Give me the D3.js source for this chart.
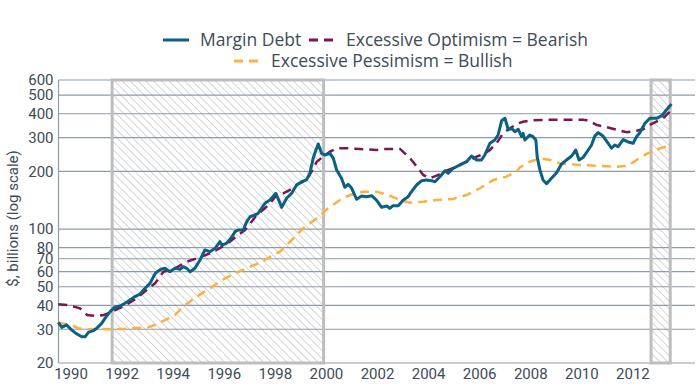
<!DOCTYPE html>
<html>
<head>
<meta charset="utf-8">
<script src="https://cdn.jsdelivr.net/npm/d3@7"></script>
<style>
  body { margin: 0; background: #fff; }
  text { font-family: Roboto, "Liberation Sans", sans-serif; fill: #3c4c59; }
  .legend text { font-family: "Open Sans", Roboto, sans-serif; }
</style>
</head>
<body>
<script>
// Margin debt vs. sentiment bands, $ billions, log scale
var marginDebt = [
  [1989.52, 32.6], [1989.66, 30.7], [1989.85, 31.6], [1990.05, 29.7], [1990.24, 28.4],
  [1990.44, 27.4], [1990.57, 27.4], [1990.70, 28.9], [1990.89, 29.5], [1991.03, 30.4],
  [1991.22, 32.2], [1991.35, 34.2], [1991.55, 37.1], [1991.74, 39.1], [1991.94, 39.7],
  [1992.13, 41.0], [1992.33, 42.6], [1992.52, 44.4], [1992.72, 45.8], [1992.92, 49.1],
  [1993.11, 52.1], [1993.31, 58.5], [1993.44, 60.5], [1993.52, 61.5], [1993.70, 62.4],
  [1993.89, 59.9], [1994.09, 62.4], [1994.29, 61.7], [1994.41, 63.6], [1994.55, 62.4],
  [1994.68, 59.9], [1994.87, 62.4], [1995.07, 69.0], [1995.26, 77.8], [1995.46, 76.2],
  [1995.66, 79.4], [1995.85, 86.0], [1995.92, 82.6], [1996.11, 84.3], [1996.31, 90.6],
  [1996.44, 96.9], [1996.57, 98.9], [1996.76, 98.9], [1996.90, 109.3], [1997.03, 116.0],
  [1997.22, 118.5], [1997.35, 120.9], [1997.61, 136.3], [1997.81, 141.8], [1998.04, 153.8],
  [1998.27, 129.9], [1998.46, 144.8], [1998.66, 153.8], [1998.85, 169.9], [1999.05, 176.7],
  [1999.24, 180.5], [1999.37, 195.5], [1999.50, 234.1], [1999.61, 258.7], [1999.70, 278.0],
  [1999.83, 248.6], [1999.96, 243.6], [2000.16, 248.6], [2000.29, 234.1], [2000.42, 203.5],
  [2000.61, 184.1], [2000.74, 165.3], [2000.87, 171.4], [2001.01, 163.3], [2001.20, 143.1],
  [2001.40, 148.8], [2001.59, 147.6], [2001.79, 149.4], [2001.98, 141.8], [2002.18, 129.9],
  [2002.38, 132.0], [2002.50, 128.4], [2002.63, 132.5], [2002.83, 132.5], [2003.03, 141.8],
  [2003.22, 147.6], [2003.35, 156.8], [2003.55, 169.9], [2003.75, 178.9], [2003.94, 180.5],
  [2004.14, 178.9], [2004.27, 176.7], [2004.46, 187.7], [2004.66, 201.7], [2004.79, 195.5],
  [2004.98, 207.6], [2005.24, 216.1], [2005.51, 224.7], [2005.70, 240.7], [2005.90, 229.5],
  [2006.09, 229.5], [2006.22, 243.6], [2006.42, 280.5], [2006.61, 291.7], [2006.74, 309.8],
  [2006.88, 367.9], [2007.01, 378.7], [2007.14, 330.0], [2007.27, 335.9], [2007.40, 322.4],
  [2007.53, 332.0], [2007.66, 303.6], [2007.72, 316.0], [2007.79, 291.7], [2007.98, 309.8],
  [2008.11, 303.6], [2008.22, 291.7], [2008.27, 239.0], [2008.38, 203.0], [2008.50, 180.5],
  [2008.64, 172.4], [2008.83, 184.0], [2009.03, 197.0], [2009.22, 218.0], [2009.42, 229.5],
  [2009.62, 240.7], [2009.78, 258.7], [2009.91, 229.5], [2010.07, 236.5], [2010.27, 258.7],
  [2010.40, 274.8], [2010.53, 306.7], [2010.66, 318.6], [2010.85, 306.0], [2011.05, 280.5],
  [2011.18, 264.2], [2011.31, 274.8], [2011.44, 269.3], [2011.64, 293.0], [2011.83, 285.0],
  [2012.03, 280.5], [2012.16, 303.6], [2012.29, 318.6], [2012.49, 356.6], [2012.68, 378.7],
  [2012.94, 378.7], [2013.14, 389.4], [2013.33, 418.5], [2013.53, 449.8]
];

var optimism = [
  [1989.52, 40.5], [1989.85, 40.2], [1990.11, 39.4], [1990.37, 38.6], [1990.65, 35.6],
  [1991.03, 35.2], [1991.30, 35.6], [1991.55, 36.7], [1991.85, 38.3], [1992.13, 39.9],
  [1992.59, 43.5], [1992.98, 48.1], [1993.31, 52.1], [1993.64, 59.9], [1994.09, 62.4],
  [1994.55, 67.6], [1994.95, 70.4], [1995.46, 74.7], [1995.72, 77.8], [1996.05, 82.6],
  [1996.24, 86.0], [1996.57, 93.2], [1996.83, 98.9], [1997.09, 109.3], [1997.29, 118.5],
  [1997.61, 128.4], [1997.81, 136.3], [1998.07, 150.6], [1998.33, 153.8], [1998.59, 160.0],
  [1998.85, 169.9], [1999.24, 180.5], [1999.44, 199.3], [1999.64, 224.7], [1999.89, 238.8],
  [2000.16, 253.6], [2000.42, 264.2], [2000.81, 264.2], [2001.33, 262.0], [2001.98, 258.7],
  [2002.24, 262.0], [2002.50, 262.0], [2002.90, 262.0], [2003.09, 248.6], [2003.35, 229.5],
  [2003.61, 207.6], [2003.81, 191.6], [2004.07, 184.1], [2004.40, 191.6], [2004.72, 201.7],
  [2005.12, 211.6], [2005.51, 224.7], [2005.90, 238.8], [2006.16, 245.6], [2006.42, 258.7],
  [2006.68, 280.5], [2006.94, 316.3], [2007.20, 335.9], [2007.53, 356.6], [2007.72, 363.5],
  [2008.11, 370.0], [2008.90, 372.6], [2010.07, 372.6], [2010.33, 366.7], [2010.59, 349.6],
  [2011.04, 339.0], [2011.51, 326.4], [2011.77, 320.0], [2012.16, 326.4], [2012.42, 331.8],
  [2012.68, 349.6], [2012.94, 363.5], [2013.20, 378.7], [2013.46, 409.9]
];

var pessimism = [
  [1989.52, 32.6], [1989.78, 32.0], [1990.11, 31.2], [1990.31, 30.4], [1990.70, 30.0],
  [1991.09, 30.1], [1991.48, 30.0], [1992.00, 30.1], [1992.52, 30.4], [1993.04, 30.7],
  [1993.31, 31.6], [1993.70, 33.5], [1994.09, 35.6], [1994.41, 39.4], [1994.94, 44.4],
  [1995.46, 49.1], [1995.98, 54.7], [1996.50, 59.2], [1997.03, 63.6], [1997.55, 68.0],
  [1997.94, 73.5], [1998.20, 76.2], [1998.60, 86.0], [1999.11, 101.0], [1999.64, 113.9],
  [2000.16, 130.9], [2000.55, 141.8], [2000.94, 150.6], [2001.46, 156.8], [2001.98, 156.8],
  [2002.44, 150.6], [2002.90, 141.8], [2003.29, 137.4], [2003.81, 139.0], [2004.33, 141.8],
  [2004.98, 143.6], [2005.51, 150.6], [2006.03, 163.3], [2006.55, 180.5], [2007.07, 187.7],
  [2007.46, 199.3], [2007.59, 210.0], [2007.98, 224.7], [2008.38, 234.1], [2008.77, 229.5],
  [2009.16, 220.0], [2009.94, 216.1], [2010.72, 213.5], [2011.38, 211.6], [2011.82, 213.5],
  [2012.16, 229.5], [2012.55, 246.6], [2012.94, 260.2], [2013.33, 269.9]
];

// shaded periods (start, end)
var shadePeriods = [[1991.63, 1999.91], [2012.73, 2013.48]];

var yTicks = [20, 30, 40, 50, 60, 70, 80, 100, 200, 300, 400, 500, 600];
var xTicks = [1990, 1992, 1994, 1996, 1998, 2000, 2002, 2004, 2006, 2008, 2010, 2012];

var legendItems = [
  {label: "Margin Debt", color: "#0b6183", dash: null},
  {label: "Excessive Optimism = Bearish", color: "#7b1650", dash: "9,6"},
  {label: "Excessive Pessimism = Bullish", color: "#fbb040", dash: "9,6"}
];

var margin = {top: 80, right: 5, bottom: 28, left: 58.5};
var W = 700, H = 391;
var width = W - margin.left - margin.right;
var height = H - margin.top - margin.bottom;

var svg = d3.select('body').append('svg')
    .attr('width', W)
    .attr('height', H);

var defs = svg.append('defs');
var pat = defs.append('pattern')
    .attr('id', 'hatch')
    .attr('patternUnits', 'userSpaceOnUse')
    .attr('width', 5.5)
    .attr('height', 5.5)
    .attr('patternTransform', 'rotate(-45)');
pat.append('line')
    .attr('x1', 0).attr('y1', 0).attr('x2', 0).attr('y2', 5.5)
    .attr('stroke', '#aaaaaa')
    .attr('stroke-width', 1);

var g = svg.append('g')
    .attr('transform', 'translate(' + margin.left + ',' + margin.top + ')');

var xScale = d3.scaleLinear()
    .domain([1989.53, 2014.45])
    .range([0, width]);

var yScale = d3.scaleLog()
    .domain([20, 600])
    .range([height, 0]);

// hatched areas
g.selectAll('.shade')
    .data(shadePeriods)
    .enter().append('rect')
    .attr('x', d => xScale(d[0]))
    .attr('width', d => xScale(d[1]) - xScale(d[0]))
    .attr('y', 0)
    .attr('height', height)
    .attr('fill', 'url(#hatch)');

// gridlines
g.selectAll('.grid')
    .data(yTicks)
    .enter().append('line')
    .attr('x1', 0).attr('x2', width)
    .attr('y1', d => yScale(d)).attr('y2', d => yScale(d))
    .attr('stroke', '#8f9ba6')
    .attr('stroke-width', 1.2);

// left axis line
g.append('line')
    .attr('x1', 0).attr('x2', 0)
    .attr('y1', 0).attr('y2', height)
    .attr('stroke', '#8f9ba6')
    .attr('stroke-width', 1.2);

// borders of hatched areas
g.selectAll('.shadeBorder')
    .data(shadePeriods)
    .enter().append('rect')
    .attr('x', d => xScale(d[0]))
    .attr('width', d => xScale(d[1]) - xScale(d[0]))
    .attr('y', 0)
    .attr('height', height)
    .attr('fill', 'none')
    .attr('stroke', '#bdbdbd')
    .attr('stroke-width', 3);

// axes
var yAxis = d3.axisLeft(yScale)
    .tickValues(yTicks)
    .tickFormat(d3.format('d'))
    .tickSize(0)
    .tickPadding(5);

g.append('g')
    .call(yAxis)
    .call(a => a.select('.domain').remove())
    .selectAll('text')
    .style('font-size', '15px')
    .attr('fill', '#3c4c59');

var xAxis = d3.axisBottom(xScale)
    .tickValues(xTicks)
    .tickFormat(d3.format('d'))
    .tickSize(0)
    .tickPadding(5);

g.append('g')
    .attr('transform', 'translate(0,' + height + ')')
    .call(xAxis)
    .call(a => a.select('.domain').remove())
    .selectAll('text')
    .style('font-size', '15px')
    .attr('fill', '#3c4c59');

// y title
svg.append('text')
    .attr('transform', 'translate(18,' + (margin.top + height / 2 - 3) + ') rotate(-90)')
    .attr('text-anchor', 'middle')
    .style('font-size', '15px')
    .text('$, billions (log scale)');

// series
var line = d3.line()
    .x(d => xScale(d[0]))
    .y(d => yScale(d[1]));

g.append('path')
    .datum(pessimism)
    .attr('d', line)
    .attr('fill', 'none')
    .attr('stroke', legendItems[2].color)
    .attr('stroke-width', 2.5)
    .attr('stroke-dasharray', legendItems[2].dash);

g.append('path')
    .datum(optimism)
    .attr('d', line)
    .attr('fill', 'none')
    .attr('stroke', legendItems[1].color)
    .attr('stroke-width', 2.5)
    .attr('stroke-dasharray', legendItems[1].dash);

g.append('path')
    .datum(marginDebt)
    .attr('d', line)
    .attr('fill', 'none')
    .attr('stroke', legendItems[0].color)
    .attr('stroke-width', 3)
    .attr('stroke-linejoin', 'round');

// legend
var legendPos = [[163, 40], [309, 40], [234, 61]];
var legend = svg.append('g').attr('class', 'legend');
legendItems.forEach(function(item, i) {
    var p = legendPos[i];
    legend.append('line')
        .attr('x1', p[0]).attr('x2', p[0] + 26)
        .attr('y1', p[1]).attr('y2', p[1])
        .attr('stroke', item.color)
        .attr('stroke-width', 3)
        .attr('stroke-dasharray', item.dash);
    legend.append('text')
        .attr('x', p[0] + 37)
        .attr('y', p[1] + 6)
        .style('font-size', '17.5px')
        .text(item.label);
});
</script>
</body>
</html>
